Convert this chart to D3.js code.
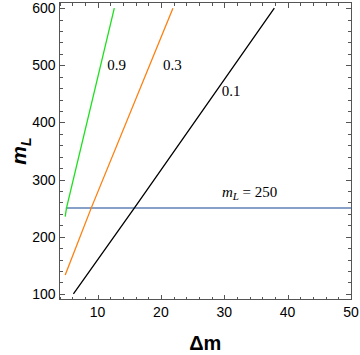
<!DOCTYPE html>
<html lang="en">
  <head>
    <meta charset="UTF-8"/>
    <title>mL vs delta m</title>
    <script src="https://d3js.org/d3.v7.min.js"></script>
    <style>
        body {
          margin: 0;
          background: #fff;
        }
        .frame {
          fill: none;
          stroke: #555;
          stroke-width: 1;
          shape-rendering: crispEdges;
        }
        .tick line {
          stroke: #555;
          shape-rendering: crispEdges;
        }
        .ticklabel {
          font: 14px "Liberation Sans", Arial, sans-serif;
          fill: #000;
        }
        .curve {
          fill: none;
          stroke-width: 1.3;
        }
        .note {
          font: 15px "Liberation Serif", "Times New Roman", serif;
          fill: #000;
        }
    </style>
  </head>
  <body>
    <script>
        // curves of constant ratio as [delta m, mL]
        const seriesNames = ["0.9", "0.3", "0.1"]
        const seriesColors = ["#1ee01e", "#ff7f0e", "#000000"]
        const green09 = [[4.9, 235], [5.1, 250], [12.65, 600]]
        const orange03 = [[4.9, 133], [9.0, 250], [21.9, 600]]
        const black01 = [[6.2, 100], [15.8, 250], [37.9, 600]]
        const seriesData = [green09, orange03, black01]

        // where the curve labels sit, in data units
        const labelAnchors = [[13, 500], [21.8, 500], [31.1, 455]]

        // horizontal reference line mL = 250
        const refValue = 250
        const refSpan = [5, 50]

        const xMajor = [10, 20, 30, 40, 50]
        const yMajor = [100, 200, 300, 400, 500, 600]

        const width = 360, height = 355
        const frame = {left: 59.5, right: 351, top: 2.5, bottom: 299.5}

        const x = d3.scaleLinear().domain([4, 50]).range([frame.left, frame.right])
        const y = d3.scaleLinear().domain([90, 610]).range([frame.bottom, frame.top])

        const svg = d3.select("body").append("svg")
            .attr("width", width)
            .attr("height", height)

        // minor ticks every 2 on x, every 20 on y
        const xMinor = d3.range(4, 50.01, 2).filter(v => !xMajor.includes(v))
        const yMinor = d3.range(100, 610, 20).filter(v => !yMajor.includes(v))

        const tickLayer = svg.append("g").attr("class", "tick")
        const majorLen = 5, minorLen = 3

        function xTicks(values, len) {
          values.forEach(v => {
            const px = Math.round(x(v)) + 0.5
            tickLayer.append("line").attr("x1", px).attr("x2", px)
                .attr("y1", frame.bottom).attr("y2", frame.bottom - len)
            tickLayer.append("line").attr("x1", px).attr("x2", px)
                .attr("y1", frame.top).attr("y2", frame.top + len)
          })
        }
        function yTicks(values, len) {
          values.forEach(v => {
            const py = Math.round(y(v)) + 0.5
            tickLayer.append("line").attr("y1", py).attr("y2", py)
                .attr("x1", frame.left).attr("x2", frame.left + len)
            tickLayer.append("line").attr("y1", py).attr("y2", py)
                .attr("x1", frame.right).attr("x2", frame.right - len)
          })
        }
        xTicks(xMajor, majorLen)
        xTicks(xMinor, minorLen)
        yTicks(yMajor, majorLen)
        yTicks(yMinor, minorLen)

        // tick labels
        svg.append("g").selectAll("text")
          .data(xMajor)
          .join("text")
            .attr("class", "ticklabel")
            .attr("x", d => x(d))
            .attr("y", frame.bottom + 17)
            .attr("text-anchor", "middle")
            .text(d => d)

        svg.append("g").selectAll("text")
          .data(yMajor)
          .join("text")
            .attr("class", "ticklabel")
            .attr("x", frame.left - 4)
            .attr("y", d => y(d) + 5)
            .attr("text-anchor", "end")
            .text(d => d)

        // reference line
        svg.append("line")
            .attr("x1", x(refSpan[0]))
            .attr("x2", x(refSpan[1]))
            .attr("y1", y(refValue))
            .attr("y2", y(refValue))
            .attr("stroke", "#5e81b5")
            .attr("stroke-width", 1.5)

        const line = d3.line()
            .x(d => x(d[0]))
            .y(d => y(d[1]))

        svg.append("g").selectAll("path")
          .data(seriesData)
          .join("path")
            .attr("class", "curve")
            .attr("stroke", (d, i) => seriesColors[i])
            .attr("d", line)

        // curve labels
        svg.append("g").selectAll("text")
          .data(seriesNames)
          .join("text")
            .attr("class", "note")
            .attr("x", (d, i) => x(labelAnchors[i][0]))
            .attr("y", (d, i) => y(labelAnchors[i][1]) + 5)
            .attr("text-anchor", "middle")
            .text(d => d)

        // mL = 250 label
        const refLabel = svg.append("text")
            .attr("class", "note")
            .attr("x", x(34))
            .attr("y", y(refValue) - 11)
            .attr("text-anchor", "middle")
        refLabel.append("tspan").attr("font-style", "italic").text("m")
        refLabel.append("tspan").attr("font-style", "italic")
            .attr("font-size", "11px").attr("dy", 3).text("L")
        refLabel.append("tspan").attr("dy", -3).text(" = 250")

        // frame on top
        svg.append("rect")
            .attr("class", "frame")
            .attr("x", frame.left)
            .attr("y", frame.top)
            .attr("width", frame.right - frame.left)
            .attr("height", frame.bottom - frame.top)

        // axis titles
        svg.append("text")
            .attr("x", (frame.left + frame.right) / 2)
            .attr("y", 350)
            .attr("text-anchor", "middle")
            .style("font", "bold 20px 'Liberation Sans', Arial, sans-serif")
            .text("\u0394m")

        const yTitle = svg.append("text")
            .attr("transform", "translate(26,151) rotate(-90)")
            .attr("text-anchor", "middle")
            .style("font", "italic bold 21px 'Liberation Sans', Arial, sans-serif")
        yTitle.append("tspan").text("m")
        yTitle.append("tspan").attr("font-size", "14px").attr("dy", 5).text("L")
    </script>
  </body>
</html>
